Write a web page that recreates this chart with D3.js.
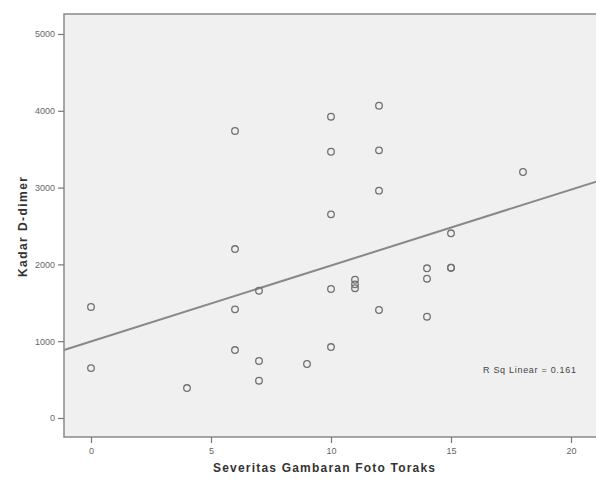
<!DOCTYPE html>
<meta charset="utf-8">
<style>
	body { margin: 0; background: #fff; }
	.frame { fill: #f0f0f0; stroke: #8a8a8a; stroke-width: 1.5; }
	.axis text { font: 9px Arial, "Liberation Sans", sans-serif; fill: #666; }
	.axis path { display: none; }
	.axis line { stroke: #777; stroke-width: 1.2; }
	.title { font: bold 12px Arial, "Liberation Sans", sans-serif; fill: #333; }
	.dot { fill: none; stroke: #707070; stroke-width: 1.3; }
	.fit { stroke: #888; stroke-width: 2; }
	.note { font: 9px Arial, "Liberation Sans", sans-serif; fill: #444; }
</style>
<body>
<script src="https://cdn.jsdelivr.net/npm/d3@7"></script>
<script>
// severity score (x) and D-dimer level (y) for each patient
var severity = [0, 0, 4, 6, 6, 6, 6, 7, 7, 7, 9, 10, 10, 10, 10, 10, 11, 11, 11, 12, 12, 12, 12, 14, 14, 14, 15, 15, 15, 18];
var dimer = [1445, 650, 390, 3737, 2200, 1415, 885, 1657, 742, 486, 703, 3923, 3467, 2652, 1680, 924, 1800, 1740, 1690, 4066, 3485, 2960, 1406, 1949, 1814, 1319, 2405, 1957, 1957, 3203];
var xTicks = [0, 5, 10, 15, 20];
var yTicks = [0, 1000, 2000, 3000, 4000, 5000];
// fit line
var fitIntercept = 996, fitSlope = 98.9;
var rSqLabel = "R Sq Linear = 0.161";

var width = 596, height = 479;
var boxLeft = 64, boxTop = 14, boxRight = 598, boxBottom = 437;

var x = d3.scaleLinear().domain([0, 20]).range([91, 571]);
var y = d3.scaleLinear().domain([0, 5000]).range([418, 34]);

var svg = d3.select("body").append("svg")
    .attr("width", width)
    .attr("height", height);

svg.append("rect")
    .attr("class", "frame")
    .attr("x", boxLeft).attr("y", boxTop)
    .attr("width", boxRight - boxLeft).attr("height", boxBottom - boxTop);

svg.append("g").attr("class", "axis")
    .attr("transform", "translate(" + boxLeft + ",0)")
    .call(d3.axisLeft(y).tickValues(yTicks).tickFormat(d3.format("d")).tickSize(6).tickPadding(3));

svg.append("g").attr("class", "axis")
    .attr("transform", "translate(0," + boxBottom + ")")
    .call(d3.axisBottom(x).tickValues(xTicks).tickFormat(d3.format("d")).tickSize(6).tickPadding(5));

var x0 = x.invert(boxLeft), x1 = x.invert(boxRight);
svg.append("line")
    .attr("class", "fit")
    .attr("x1", x(x0)).attr("y1", y(fitIntercept + fitSlope * x0))
    .attr("x2", x(x1)).attr("y2", y(fitIntercept + fitSlope * x1));

svg.append("g")
    .selectAll("circle").data(severity)
  .enter().append("circle")
    .attr("class", "dot")
    .attr("cx", function(d) { return x(d); })
    .attr("cy", function(d, i) { return y(dimer[i]); })
    .attr("r", 3.3);

svg.append("text")
    .attr("class", "note")
    .attr("x", 483).attr("y", 373)
    .attr("textLength", 93)
    .text(rSqLabel);

svg.append("text")
    .attr("class", "title")
    .attr("x", 213).attr("y", 472)
    .attr("textLength", 222)
    .text("Severitas Gambaran Foto Toraks");

svg.append("text")
    .attr("class", "title")
    .attr("transform", "translate(27,277) rotate(-90)")
    .attr("textLength", 100)
    .text("Kadar D-dimer");
</script>
</body>
